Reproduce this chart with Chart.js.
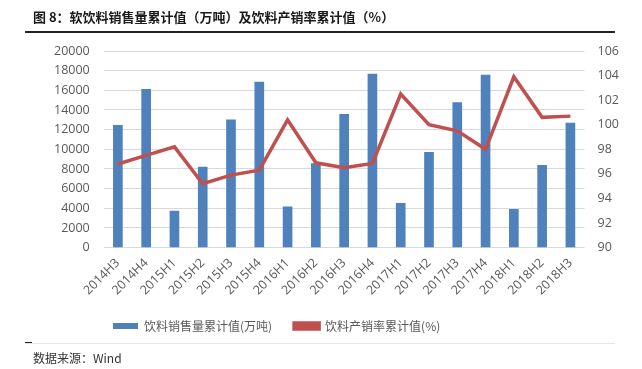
<!DOCTYPE html>
<html>
<head>
<meta charset="utf-8">
<script src="https://cdn.jsdelivr.net/npm/chart.js@4.4.1/dist/chart.umd.min.js"></script>
<style>
  body { margin: 0; background: #fff; }
  #wrap { position: relative; width: 642px; height: 369px; }
  #chart { position: absolute; left: 0; top: 0; }
  .title { position: absolute; left: 33px; top: 7px; font: bold 13px "Noto Sans CJK SC", sans-serif; color: #1a1a1a; }
  .rule { position: absolute; left: 25px; top: 31px; width: 590px; height: 2px; background: #222; }
  .foot { position: absolute; left: 25px; top: 343px; width: 590px; height: 1px; background: #e6e6e6; }
  .dash { position: absolute; left: 25px; top: 342px; width: 7px; height: 1px; background: #222; }
  .source { position: absolute; left: 33px; top: 349px; font: 12px "Noto Sans CJK SC", sans-serif; color: #333; }
</style>
</head>
<body>
<div id="wrap">
  <canvas id="chart" width="642" height="369"></canvas>
  <div class="title">图 8：软饮料销售量累计值（万吨）及饮料产销率累计值（%）</div>
  <div class="rule"></div>
  <div class="foot"></div>
  <div class="dash"></div>
  <div class="source">数据来源：Wind</div>
</div>
<script>
  // Periods on the x-axis
  const periods = ['2014H3', '2014H4', '2015H1', '2015H2', '2015H3', '2015H4', '2016H1', '2016H2', '2016H3',
    '2016H4', '2017H1', '2017H2', '2017H3', '2017H4', '2018H1', '2018H2', '2018H3'];

  // Soft drink sales, cumulative (10k tons)
  const salesVolume = [12450, 16100, 3720, 8200, 13000, 16850, 4160, 8560, 13570,
    17650, 4500, 9700, 14750, 17560, 3900, 8360, 12660];

  // Production/sales ratio, cumulative (%)
  const salesRatio = [96.8, 97.5, 98.2, 95.2, 95.9, 96.3, 100.4, 96.9, 96.5,
    96.85, 102.5, 100.0, 99.5, 98.0, 103.9, 100.6, 100.7];

  const tickFont = { family: '"Open Sans", "Noto Sans", sans-serif', size: 12.5 };
  const gray = '#595959';

  // legend sits left of centre in the original
  const legendShift = {
    id: 'legendShift',
    afterLayout(chart) {
      chart.legend.left = 113 - chart.legend.options.labels.padding;
    }
  };

  new Chart(document.getElementById('chart'), {
    data: {
      labels: periods,
      datasets: [
        {
          type: 'bar',
          label: '饮料销售量累计值(万吨)',
          data: salesVolume,
          backgroundColor: '#4f81bd',
          borderWidth: 0,
          barThickness: 9,
          yAxisID: 'y',
          order: 2
        },
        {
          type: 'line',
          label: '饮料产销率累计值(%)',
          data: salesRatio,
          borderColor: '#c0504d',
          backgroundColor: '#c0504d',
          borderWidth: 3.5,
          pointRadius: 0,
          tension: 0,
          yAxisID: 'y1',
          order: 1
        }
      ]
    },
    options: {
      responsive: false,
      animation: false,
      layout: { padding: { left: 40, right: 10, top: 51, bottom: 27 } },
      scales: {
        x: {
          grid: { display: false },
          border: { display: false },
          ticks: { color: gray, font: tickFont, minRotation: 45, maxRotation: 45, padding: 0 }
        },
        y: {
          position: 'left',
          min: 0,
          max: 20000,
          ticks: { stepSize: 2000, color: gray, font: tickFont, padding: 14, callback: v => String(v) },
          grid: { color: '#d9d9d9', lineWidth: 1, drawTicks: false },
          border: { display: false }
        },
        y1: {
          position: 'right',
          min: 90,
          max: 106,
          ticks: { stepSize: 2, color: gray, font: tickFont, padding: 13, callback: v => String(v) },
          grid: { display: false, drawTicks: false },
          border: { display: false }
        }
      },
      plugins: {
        legend: {
          position: 'bottom',
          align: 'start',
          labels: {
            boxWidth: 25,
            boxHeight: 6,
            color: gray,
            font: { family: '"Noto Sans CJK SC", sans-serif', size: 12 },
            padding: 22,
            sort: (a, b) => a.datasetIndex - b.datasetIndex
          }
        },
        tooltip: { enabled: false }
      }
    },
    plugins: [legendShift]
  });
</script>
</body>
</html>
